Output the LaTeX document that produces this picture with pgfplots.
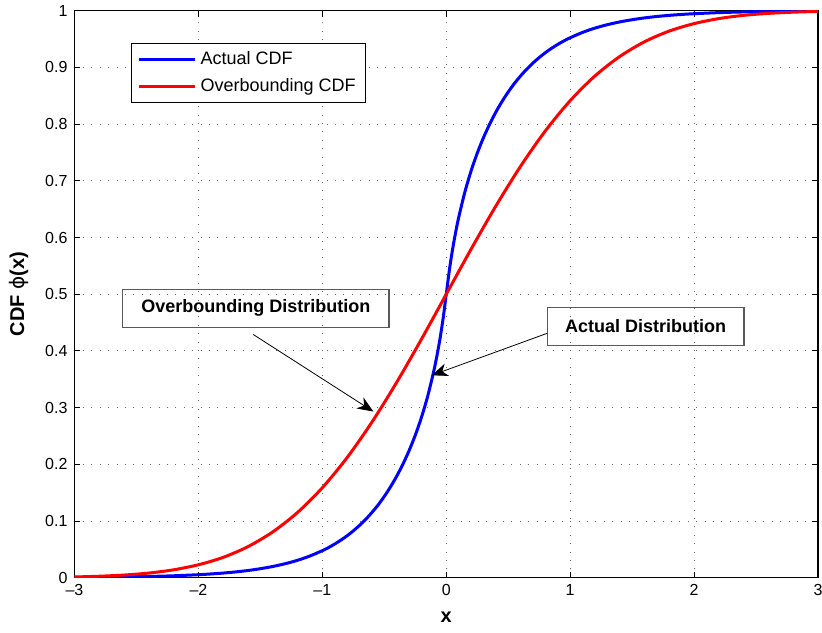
\documentclass[border=0pt]{standalone}
\usepackage{pgfplots}
\pgfplotsset{compat=1.18}
\usepackage{pgfplotstable}
\usepackage{fontspec}
\setmainfont{Liberation Sans}
\newfontfamily\greekfont{DejaVu Sans}
\usetikzlibrary{arrows.meta,calc}

% Actual (heavy-tailed) CDF
\pgfplotstableread{
x F
-3.0 0.0006
-2.8 0.0009
-2.6 0.0014
-2.4 0.0022
-2.2 0.0034
-2.0 0.0053
-1.9 0.0066
-1.8 0.0082
-1.7 0.0102
-1.6 0.0127
-1.5 0.0159
-1.4 0.0198
-1.3 0.0247
-1.2 0.0307
-1.1 0.0383
-1.0 0.0477
-0.95 0.0532
-0.9 0.0594
-0.85 0.0663
-0.8 0.0740
-0.75 0.0826
-0.7 0.0923
-0.65 0.1030
-0.6 0.1150
-0.55 0.1283
-0.5 0.1434
-0.45 0.1602
-0.4 0.1790
-0.35 0.2002
-0.3 0.2241
-0.25 0.2513
-0.2 0.2829
-0.15 0.3200
-0.1 0.3650
-0.075 0.3917
-0.05 0.4222
-0.025 0.4578
0 0.5
0.025 0.5422
0.05 0.5778
0.075 0.6083
0.1 0.6350
0.15 0.6800
0.2 0.7171
0.25 0.7487
0.3 0.7759
0.35 0.7998
0.4 0.8210
0.45 0.8398
0.5 0.8566
0.55 0.8717
0.6 0.8850
0.65 0.8970
0.7 0.9077
0.75 0.9174
0.8 0.9260
0.85 0.9337
0.9 0.9406
0.95 0.9468
1.0 0.9523
1.1 0.9617
1.2 0.9693
1.3 0.9753
1.4 0.9802
1.5 0.9841
1.6 0.9873
1.7 0.9898
1.8 0.9918
1.9 0.9934
2.0 0.9947
2.2 0.9966
2.4 0.9978
2.6 0.9986
2.8 0.9991
3.0 0.9994
}\actualcdf

% Overbounding (Gaussian, sigma = 1) CDF
\pgfplotstableread{
x F
-3.0 0.0013
-2.8 0.0026
-2.6 0.0047
-2.4 0.0082
-2.2 0.0139
-2.0 0.0228
-1.8 0.0359
-1.6 0.0548
-1.4 0.0808
-1.2 0.1151
-1.0 0.1587
-0.8 0.2119
-0.6 0.2743
-0.4 0.3446
-0.2 0.4207
0.0 0.5
0.2 0.5793
0.4 0.6554
0.6 0.7257
0.8 0.7881
1.0 0.8413
1.2 0.8849
1.4 0.9192
1.6 0.9452
1.8 0.9641
2.0 0.9772
2.2 0.9861
2.4 0.9918
2.6 0.9953
2.8 0.9974
3.0 0.9987
}\overcdf

\begin{document}
\begin{tikzpicture}
\begin{axis}[
  name=ax,
  scale only axis,
  width=371.75pt, height=283.5pt,
  xmin=-3, xmax=3, ymin=0, ymax=1,
  xtick={-3,-2,-1,0,1,2,3},
  xticklabels={–3,–2,–1,0,1,2,3},
  ytick={0,0.1,0.2,0.3,0.4,0.5,0.6,0.7,0.8,0.9,1},
  yticklabels={0,0.1,0.2,0.3,0.4,0.5,0.6,0.7,0.8,0.9,1},
  tick align=inside,
  tick pos=both,
  major tick length=3pt,
  tick style={black, line width=0.5pt},
  axis line style={black, line width=0.6pt},
  grid=major,
  major grid style={black!60, line width=0.5pt, dash pattern=on 0.5pt off 3.7pt},
  ticklabel style={font=\fontsize{8}{9}\selectfont},
  xlabel={\textbf{x}},
  ylabel={\textbf{CDF }{\greekfont ϕ}\textbf{(x)}},
  label style={font=\fontsize{10}{12}\selectfont},
  xlabel style={at={(axis description cs:0.5,-0.0695)}, anchor=center},
  ylabel style={at={(axis description cs:-0.0753,0.5)}, anchor=center},
  legend style={at={(rel axis cs:0.076,0.9425)}, anchor=north west,
    draw=black, line width=0.5pt, fill=white,
    font=\fontsize{9}{11}\selectfont,
    inner xsep=3pt, inner ysep=2pt, row sep=1.5pt,
    cells={anchor=west}},
  legend image code/.code={\draw[#1, line width=1.5pt] (0pt,0pt) -- (28pt,0pt);},
]
\addplot[blue, line width=1.5pt, smooth, tension=0.5] table[x=x, y=F] {\actualcdf};
\addlegendentry{Actual CDF}
\addplot[red, line width=1.5pt, smooth] table[x=x, y=F] {\overcdf};
\addlegendentry{Overbounding CDF}

% annotation boxes and arrows
\node[draw=black!65, line width=0.6pt, minimum width=133.2pt, minimum height=19pt,
      inner sep=0pt, font=\bfseries\fontsize{9}{11}\selectfont]
  at (axis cs:-1.537,0.475) {Overbounding Distribution};
\draw[line width=0.4pt, -{Stealth[length=8pt, width=6.5pt, inset=2.5pt]}]
  (axis cs:-1.558,0.429) -- (axis cs:-0.588,0.293);
\node[draw=black!65, line width=0.6pt, minimum width=98.3pt, minimum height=19.2pt,
      inner sep=0pt, font=\bfseries\fontsize{9}{11}\selectfont]
  at (axis cs:1.609,0.443) {Actual Distribution};
\draw[line width=0.4pt, -{Stealth[length=8pt, width=6.5pt, inset=2.5pt]}]
  (axis cs:0.814,0.431) -- (axis cs:-0.116,0.357);
\end{axis}
\pgfresetboundingbox
\path ($(ax.south west)+(-37.25pt,-27.15pt)$) rectangle ($(ax.north east)+(2pt,5.35pt)$);
\end{tikzpicture}
\end{document}
